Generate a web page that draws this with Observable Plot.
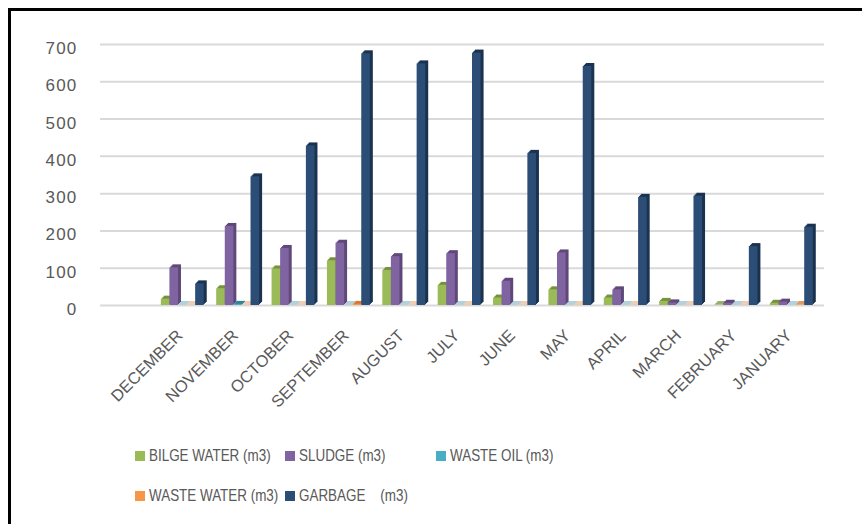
<!DOCTYPE html>
<html>
<head>
<meta charset="utf-8">
<script src="https://cdn.jsdelivr.net/npm/d3@7"></script>
<script src="https://cdn.jsdelivr.net/npm/@observablehq/plot@0.6"></script>
<style>
  html, body { margin: 0; padding: 0; background: #fff; overflow: hidden; }
  #page { position: relative; width: 862px; height: 524px; overflow: hidden; background: #fff; }
  #chart { position: absolute; left: 0; top: 0; }
  .edge { position: absolute; background: #000; z-index: 2; }
  #edge-left { left: 8px; top: 8px; width: 3px; height: 516px; }
  #edge-top { left: 8px; top: 8px; width: 854px; height: 3px; }
  #legend { position: absolute; left: 0; top: 0; width: 862px; height: 524px;
            font-family: "Liberation Sans", Arial, sans-serif; font-size: 17px; color: #595959; }
  .item { position: absolute; display: flex; align-items: center; height: 20px; white-space: pre; }
  .swatch { width: 10px; height: 10px; margin-right: 4px; flex: none; }
  .label { display: inline-block; transform: scaleX(0.79); transform-origin: 0 50%; }
  #chart g[aria-label="y-axis tick label"] text { letter-spacing: 1.2px; }
</style>
</head>
<body>
<div id="page">
  <div id="chart"></div>
  <div id="legend"></div>
  <div class="edge" id="edge-left"></div>
  <div class="edge" id="edge-top"></div>
</div>
<script>
// Monthly waste delivered ashore, m3
const months = ["DECEMBER", "NOVEMBER", "OCTOBER", "SEPTEMBER", "AUGUST", "JULY",
                "JUNE", "MAY", "APRIL", "MARCH", "FEBRUARY", "JANUARY"];
const bilgeWater = [17, 45, 98, 120, 94, 54, 20, 42, 20, 11, 2, 6];
const sludge     = [101, 212, 153, 167, 131, 139, 65, 141, 42, 7, 6, 9];
const wasteOil   = [1, 3, 1, 1, 1, 1, 1, 1, 1, 1, 1, 1];
const wasteWater = [1, 1, 1, 3, 1, 1, 1, 1, 1, 1, 1, 2];
const garbage    = [58, 345, 428, 675, 648, 677, 408, 641, 290, 293, 158, 210];

const seriesNames  = ["BILGE WATER (m3)", "SLUDGE (m3)", "WASTE OIL (m3)", "WASTE WATER (m3)", "GARBAGE    (m3)"];
const seriesValues = [bilgeWater, sludge, wasteOil, wasteWater, garbage];
const yTicks = [0, 100, 200, 300, 400, 500, 600, 700];

// Styling
const faceColors = ["#9bbb59", "#8064a2", "#4bacc6", "#f79646", "#2c4d75"];
const sideColors = ["#76923c", "#5f497a", "#31849b", "#d9782f", "#1b3350"];
const barWidth = 0.155;          // width of one column, in month units
const depth = [3, 2, 1];         // pseudo-3D extrusion offsets (px)
const font = "Liberation Sans, Arial, sans-serif";

// Long table: one row per month × series
const rows = [];
months.forEach((month, i) => {
  seriesValues.forEach((vals, j) => {
    rows.push({month, i, j, series: seriesNames[j], value: vals[i],
               x1: i + (j - 2.5) * barWidth, x2: i + (j - 1.5) * barWidth});
  });
});

const marks = [Plot.ruleY(yTicks, {stroke: "#d9d9d9", strokeWidth: 2})];

// Extrusion (side/top faces) first, then front faces on top
for (const k of depth) {
  seriesNames.forEach((s, j) => {
    marks.push(Plot.rectY(rows.filter(d => d.j === j), {
      x1: "x1", x2: "x2", y1: 0, y2: "value", fill: sideColors[j], dx: k, dy: -k
    }));
  });
}
seriesNames.forEach((s, j) => {
  marks.push(Plot.rectY(rows.filter(d => d.j === j), {
    x1: "x1", x2: "x2", y1: 0, y2: "value", fill: faceColors[j]
  }));
});

marks.push(Plot.axisY({ticks: yTicks, tickSize: 0, tickPadding: 23, dy: 4,
  fontSize: 17, fontFamily: font, color: "#595959", label: null}));

marks.push(Plot.text(months, {
  x: (d, i) => i, frameAnchor: "bottom", text: d => d, rotate: -45,
  textAnchor: "end", dy: 31, dx: 1, fill: "#595959", fontSize: 16.5, fontFamily: font
}));

const chart = Plot.plot({
  width: 862,
  height: 430,
  marginTop: 44,
  marginBottom: 125,
  marginLeft: 100,
  marginRight: 38,
  style: {background: "transparent"},
  x: {type: "linear", domain: [-1.486, 11.59], axis: null},
  y: {domain: [0, 700], axis: null},
  marks
});
document.getElementById("chart").appendChild(chart);

// Legend below the plot: two rows
const legendCols = [135, 285, 436];
const legendRows = [456, 496];
const legend = document.getElementById("legend");
seriesNames.forEach((name, j) => {
  const item = document.createElement("div");
  item.className = "item";
  item.style.left = legendCols[j % 3] + "px";
  item.style.top = (legendRows[Math.floor(j / 3)] - 10) + "px";
  const sw = document.createElement("span");
  sw.className = "swatch";
  sw.style.background = faceColors[j];
  const label = document.createElement("span");
  label.className = "label";
  label.textContent = name;
  item.appendChild(sw);
  item.appendChild(label);
  legend.appendChild(item);
});
</script>
</body>
</html>
